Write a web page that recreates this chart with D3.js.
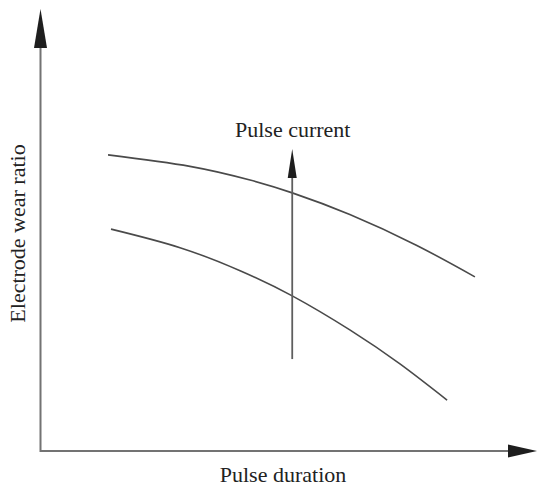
<!DOCTYPE html>
<html>
<head>
<meta charset="utf-8">
<script src="https://cdn.jsdelivr.net/npm/d3@7"></script>
<style>
  html, body { margin: 0; padding: 0; background: #fff; }
  svg { display: block; }
  .label { font-family: "Liberation Serif", "DejaVu Serif", serif; font-size: 22px; fill: #222; }
</style>
</head>
<body>
<div id="chart"></div>
<script>
// schematic values (axis units 0..10)
const upperX = [1.36, 3.01, 4.22, 5.07, 6.23, 7.58, 8.75];
const upperY = [6.70, 6.44, 6.13, 5.84, 5.35, 4.65, 3.94];
const lowerX = [1.42, 2.81, 4.02, 5.07, 6.23, 7.24, 8.19];
const lowerY = [5.02, 4.60, 4.08, 3.51, 2.74, 1.97, 1.15];
const arrowX = 5.07;
const arrowFrom = 2.08;
const arrowTo = 6.83;
const xLabel = 'Pulse duration';
const yLabel = 'Electrode wear ratio';
const arrowLabel = 'Pulse current';

const width = 538;
const height = 487;

const svg = d3.select('#chart')
    .append('svg')
    .attr('width', width)
    .attr('height', height);

const x = d3.scaleLinear().domain([0, 10]).range([40.5, 537]);
const y = d3.scaleLinear().domain([0, 10]).range([451, 9]);

const axisColor = '#737373';
const headColor = '#1e1e1e';

// axes: plain lines with filled arrow heads
const x0 = x.range()[0], x1 = x.range()[1];
const y0 = y.range()[0], y1 = y.range()[1];

svg.append('path')
    .attr('d', `M${x0},${y1 + 38}L${x0},${y0}L${x1 - 28},${y0}`)
    .attr('fill', 'none')
    .attr('stroke', axisColor)
    .attr('stroke-width', 2);

svg.append('path')
    .attr('d', `M${x0},${y1}L${x0 - 6.5},${y1 + 39}L${x0 + 6.5},${y1 + 39}Z`)
    .attr('fill', headColor);

svg.append('path')
    .attr('d', `M${x1},${y0}L${x1 - 29},${y0 - 6.5}L${x1 - 29},${y0 + 6.5}Z`)
    .attr('fill', headColor);

// curves
const line = d3.line()
    .x(d => x(d[0]))
    .y(d => y(d[1]))
    .curve(d3.curveNatural);

[[upperX, upperY], [lowerX, lowerY]].forEach(([xs, ys]) => {
    svg.append('path')
        .datum(xs.map((v, i) => [v, ys[i]]))
        .attr('d', line)
        .attr('fill', 'none')
        .attr('stroke', '#4a4a4a')
        .attr('stroke-width', 1.6);
});

// pulse current arrow
const ax = x(arrowX);
svg.append('line')
    .attr('x1', ax).attr('x2', ax)
    .attr('y1', y(arrowFrom)).attr('y2', y(arrowTo) + 25)
    .attr('stroke', '#5e5e5e')
    .attr('stroke-width', 1.8);

svg.append('path')
    .attr('d', `M${ax},${y(arrowTo)}L${ax - 4.5},${y(arrowTo) + 29}L${ax + 4.5},${y(arrowTo) + 29}Z`)
    .attr('fill', headColor);

// labels
svg.append('text')
    .attr('class', 'label')
    .attr('x', 235)
    .attr('y', 137)
    .text(arrowLabel);

svg.append('text')
    .attr('class', 'label')
    .attr('x', 283)
    .attr('y', 482)
    .attr('text-anchor', 'middle')
    .text(xLabel);

svg.append('text')
    .attr('class', 'label')
    .attr('transform', 'translate(25,233.5) rotate(-90)')
    .attr('text-anchor', 'middle')
    .text(yLabel);
</script>
</body>
</html>
